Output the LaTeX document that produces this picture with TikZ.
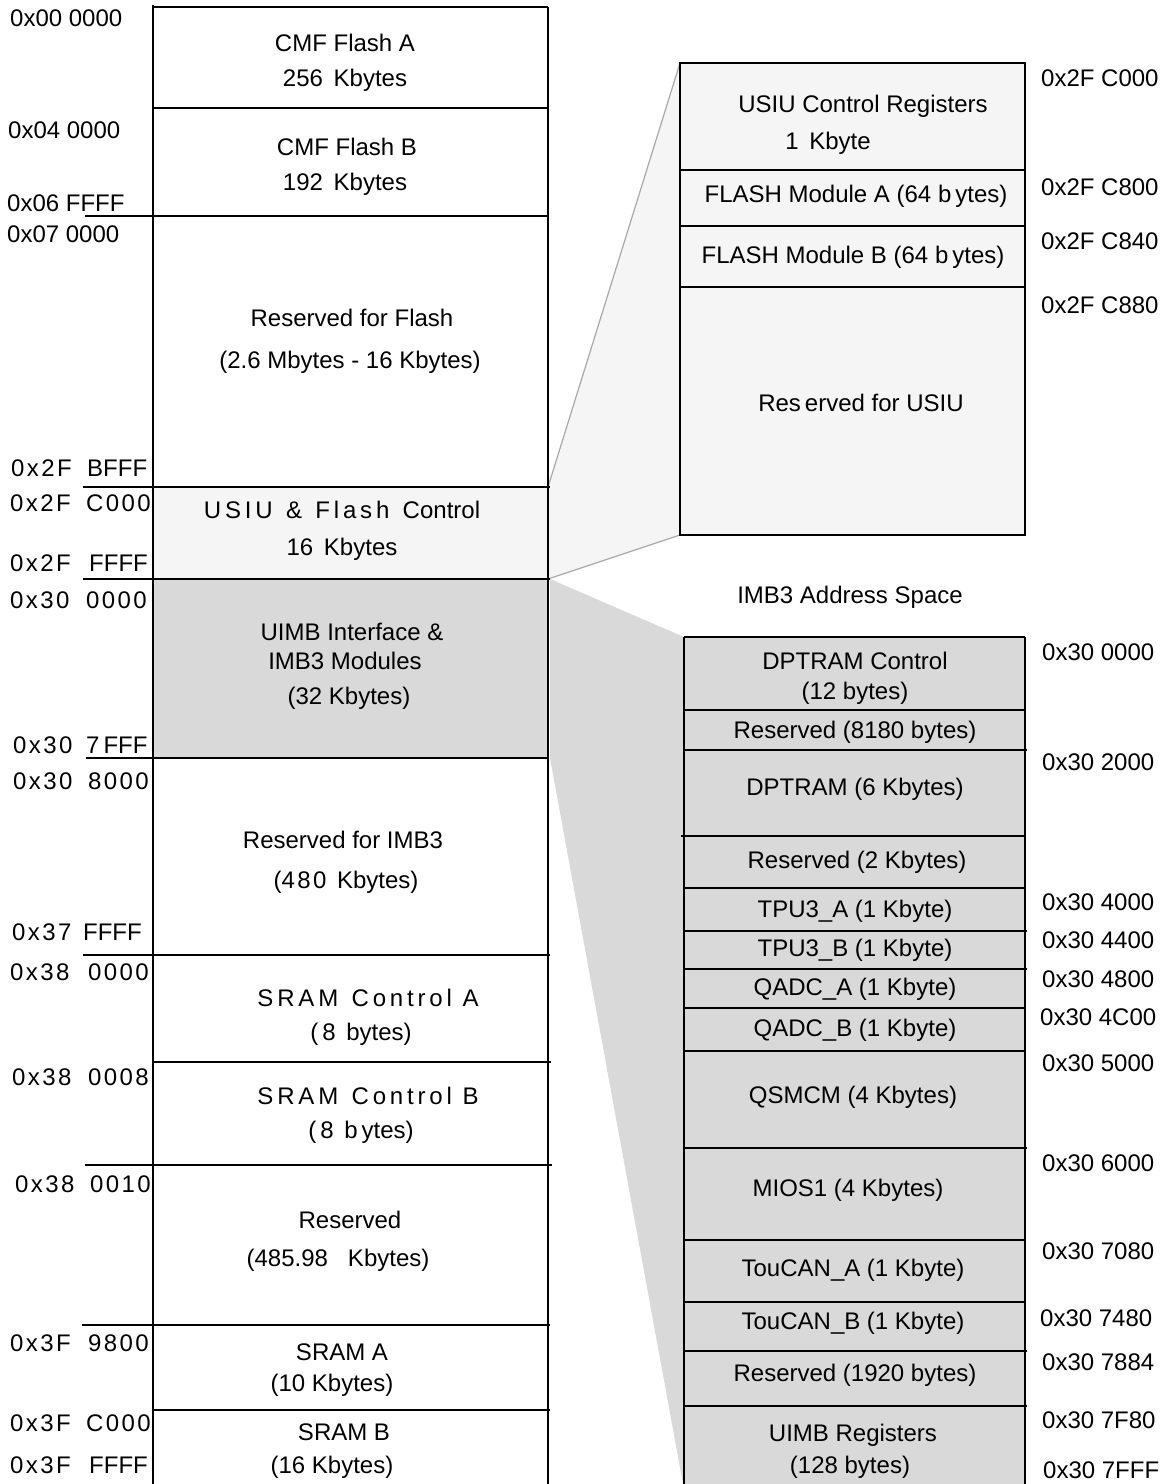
\documentclass[tikz,border=0pt]{standalone}
\usepackage{fontspec}
\setmainfont{Liberation Sans}
\newfontfamily\lsA[LetterSpace=10]{Liberation Sans}
\newfontfamily\lsB[LetterSpace=16]{Liberation Sans}
\definecolor{usiufill}{HTML}{F5F5F5}
\definecolor{imbfill}{HTML}{D9D9D9}
\definecolor{zoomline}{HTML}{A8A8A8}
\begin{document}
\begin{tikzpicture}[x=1pt,y=-1pt,
  txt/.style={inner sep=0pt, text height=17pt, text depth=0pt, font=\fontsize{24}{28}\selectfont},
  addr/.style={txt, anchor=west},
  mapline/.style={line width=2.6pt},
  boxline/.style={line width=2.2pt},
  zl/.style={zoomline, line width=1.2pt}]
\useasboundingbox (0,0) rectangle (1164,1484);

% zoom-out regions
\fill[usiufill] (548,487) -- (680,63) -- (680,535) -- (548,579) -- cycle;
\fill[imbfill] (550,579) -- (684,637) -- (684,1484) -- (683,1484) -- (550,758) -- cycle;
\draw[zl] (548,487) -- (680,63);
\draw[zl] (548,579) -- (680,535);

% left column fills
\fill[usiufill] (153,487) rectangle (548,579);
\fill[imbfill] (153,579) rectangle (548,758);

% right boxes fills
\fill[usiufill] (680,63) rectangle (1025,535);
\fill[imbfill] (684,637) rectangle (1025,1484);

% left column lines
\draw[mapline] (153,5) -- (153,1484);
\draw[mapline] (548,7) -- (548,1484);
\draw[mapline] (153,7) -- (548,7);
\draw[mapline] (153,108) -- (548,108);
\draw[mapline] (85,216) -- (548,216);
\draw[mapline] (83,487) -- (550,487);
\draw[mapline] (83,579) -- (550,579);
\draw[mapline] (86,758) -- (548,758);
\draw[mapline] (83,955) -- (550,955);
\draw[mapline] (153,1062) -- (551,1062);
\draw[mapline] (85,1165) -- (552,1165);
\draw[mapline] (82,1325) -- (550,1325);
\draw[mapline] (153,1410) -- (550,1410);

% USIU detail box
\draw[boxline] (680,63) rectangle (1025,535);
\draw[boxline] (680,170) -- (1025,170);
\draw[boxline] (680,226) -- (1025,226);
\draw[boxline] (680,287) -- (1025,287);

% IMB3 detail box
\draw[boxline] (684,637) -- (1025,637);
\draw[boxline] (684,637) -- (684,1484);
\draw[boxline] (1025,637) -- (1025,1484);
\draw[boxline] (684,710) -- (1025,710);
\draw[boxline] (684,750) -- (1027,750);
\draw[boxline] (681,836) -- (1025,836);
\draw[boxline] (684,888) -- (1025,888);
\draw[boxline] (684,931) -- (1027,931);
\draw[boxline] (684,969) -- (1027,969);
\draw[boxline] (684,1008) -- (1025,1008);
\draw[boxline] (684,1051) -- (1025,1051);
\draw[boxline] (684,1148) -- (1027,1148);
\draw[boxline] (684,1240) -- (1025,1240);
\draw[boxline] (684,1302) -- (1025,1302);
\draw[boxline] (684,1351) -- (1027,1351);
\draw[boxline] (684,1406) -- (1027,1406);

% left address labels
\node[addr] (a1) at (10,18) {0x00 0000};
\node[addr] (a2) at (8,130) {0x04 0000};
\node[addr] (a3) at (7,203) {0x06 FFFF};
\node[addr] (a4) at (7,234) {0x07 0000};
\node[addr] (a5) at (11,468) {\makebox[76pt][l]{\lsA 0x2F}BFFF};
\node[addr] (a6) at (10,503) {\makebox[76pt][l]{\lsA 0x2F}{\lsA C000}};
\node[addr] (a7) at (10,563) {\makebox[79pt][l]{\lsA 0x2F}FFFF};
\node[addr] (a8) at (10,600) {\makebox[76pt][l]{\lsA 0x30}{\lsA 0000}};
\node[addr] (a9) at (13,745) {\makebox[73pt][l]{\lsA 0x30}7\,FFF};
\node[addr] (a10) at (13,781) {\makebox[75pt][l]{\lsA 0x30}{\lsA 8000}};
\node[addr] (a11) at (12,932) {\makebox[71pt][l]{\lsA 0x37}FFFF};
\node[addr] (a12) at (10,972) {\makebox[78pt][l]{\lsA 0x38}{\lsA 0000}};
\node[addr] (a13) at (12,1077) {\makebox[76pt][l]{\lsA 0x38}{\lsA 0008}};
\node[addr] (a14) at (15,1184) {\makebox[75pt][l]{\lsA 0x38}{\lsA 0010}};
\node[addr] (a15) at (10,1343) {\makebox[78pt][l]{\lsA 0x3F}{\lsA 9800}};
\node[addr] (a16) at (10,1423) {\makebox[76pt][l]{\lsA 0x3F}{\lsA C000}};
\node[addr] (a17) at (10,1465) {\makebox[79pt][l]{\lsA 0x3F}FFFF};

% left column texts
\node[txt] (m1a) at (345,43) {CMF Flash A};
\node[txt] (m1b) at (345,78) {256 \,Kbytes};
\node[txt] (m2a) at (347,147) {CMF Flash B};
\node[txt] (m2b) at (345,182) {192 \,Kbytes};
\node[txt] (m3a) at (352,318) {Reserved for Flash};
\node[txt] (m3b) at (350,360) {(2.6 Mbytes - 16 Kbytes)};
\node[txt] (m4a) at (342,510) {{\lsB USIU} \ {\lsB \&} \ {\lsB Flash} \ Control};
\node[txt] (m4b) at (342,547) {16 \,Kbytes};
\node[txt] (m5a) at (352,632) {UIMB Interface \&};
\node[txt] (m5b) at (345,661) {IMB3 Modules};
\node[txt] (m5c) at (349,696) {(32 Kbytes)};
\node[txt] (m6a) at (343,840) {Reserved for IMB3};
\node[txt] (m6b) at (346,880) {({\lsA 480} \,Kbytes)};
\node[txt] (m7a) at (368,998) {{\lsB SRAM} \ {\lsB Control A}};
\node[txt] (m7b) at (361,1032) {(\,8 \,bytes)};
\node[txt] (m8a) at (368,1096) {{\lsB SRAM} \ {\lsB Control B}};
\node[txt] (m8b) at (361,1130) {(\,8 \,b\,ytes)};
\node[txt] (m9a) at (350,1220) {Reserved};
\node[txt] (m9b) at (338,1258) {(485.98 \ \ Kbytes)};
\node[txt] (m10a) at (342,1352) {SRAM A};
\node[txt] (m10b) at (332,1383) {(10 Kbytes)};
\node[txt] (m11a) at (344,1432) {SRAM B};
\node[txt] (m11b) at (332,1465) {(16 Kbytes)};

% USIU detail texts
\node[txt] (u1a) at (863,104) {USIU Control Registers};
\node[txt] (u1b) at (828,141) {1 \,Kbyte};
\node[txt] (u2) at (856,194) {FLASH Module A (64 b\,ytes)};
\node[txt] (u3) at (853,255) {FLASH Module B (64 b\,ytes)};
\node[txt] (u4) at (861,403) {Res\,erved for USIU};
\node[addr] (ua1) at (1041,78) {0x2F C000};
\node[addr] (ua2) at (1041,187) {0x2F C800};
\node[addr] (ua3) at (1041,241) {0x2F C840};
\node[addr] (ua4) at (1041,305) {0x2F C880};

% IMB3 detail
\node[txt] (title) at (850,595) {IMB3 Address Space};
\node[txt] (i1a) at (855,661) {DPTRAM Control};
\node[txt] (i1b) at (855,691) {(12 bytes)};
\node[txt] (i2) at (855,730) {Reserved (8180 bytes)};
\node[txt] (i3) at (855,787) {DPTRAM (6 Kbytes)};
\node[txt] (i4) at (857,860) {Reserved (2 Kbytes)};
\node[txt] (i5) at (855,909) {TPU3\_A (1 Kbyte)};
\node[txt] (i6) at (855,948) {TPU3\_B (1 Kbyte)};
\node[txt] (i7) at (855,987) {QADC\_A (1 Kbyte)};
\node[txt] (i8) at (855,1028) {QADC\_B (1 Kbyte)};
\node[txt] (i9) at (853,1095) {QSMCM (4 Kbytes)};
\node[txt] (i10) at (848,1188) {MIOS1 (4 Kbytes)};
\node[txt] (i11) at (853,1268) {TouCAN\_A (1 Kbyte)};
\node[txt] (i12) at (853,1321) {TouCAN\_B (1 Kbyte)};
\node[txt] (i13) at (855,1373) {Reserved (1920 bytes)};
\node[txt] (i14a) at (853,1433) {UIMB Registers};
\node[txt] (i14b) at (850,1465) {(128 bytes)};

\node[addr] (ia1) at (1042,652) {0x30 0000};
\node[addr] (ia2) at (1042,762) {0x30 2000};
\node[addr] (ia3) at (1042,902) {0x30 4000};
\node[addr] (ia4) at (1042,940) {0x30 4400};
\node[addr] (ia5) at (1042,979) {0x30 4800};
\node[addr] (ia6) at (1040,1017) {0x30 4C00};
\node[addr] (ia7) at (1042,1063) {0x30 5000};
\node[addr] (ia8) at (1042,1163) {0x30 6000};
\node[addr] (ia9) at (1042,1251) {0x30 7080};
\node[addr] (ia10) at (1040,1318) {0x30 7480};
\node[addr] (ia11) at (1042,1362) {0x30 7884};
\node[addr] (ia12) at (1042,1420) {0x30 7F80};
\node[addr] (ia13) at (1043,1470) {0x30 7FFF};
\end{tikzpicture}
\end{document}
